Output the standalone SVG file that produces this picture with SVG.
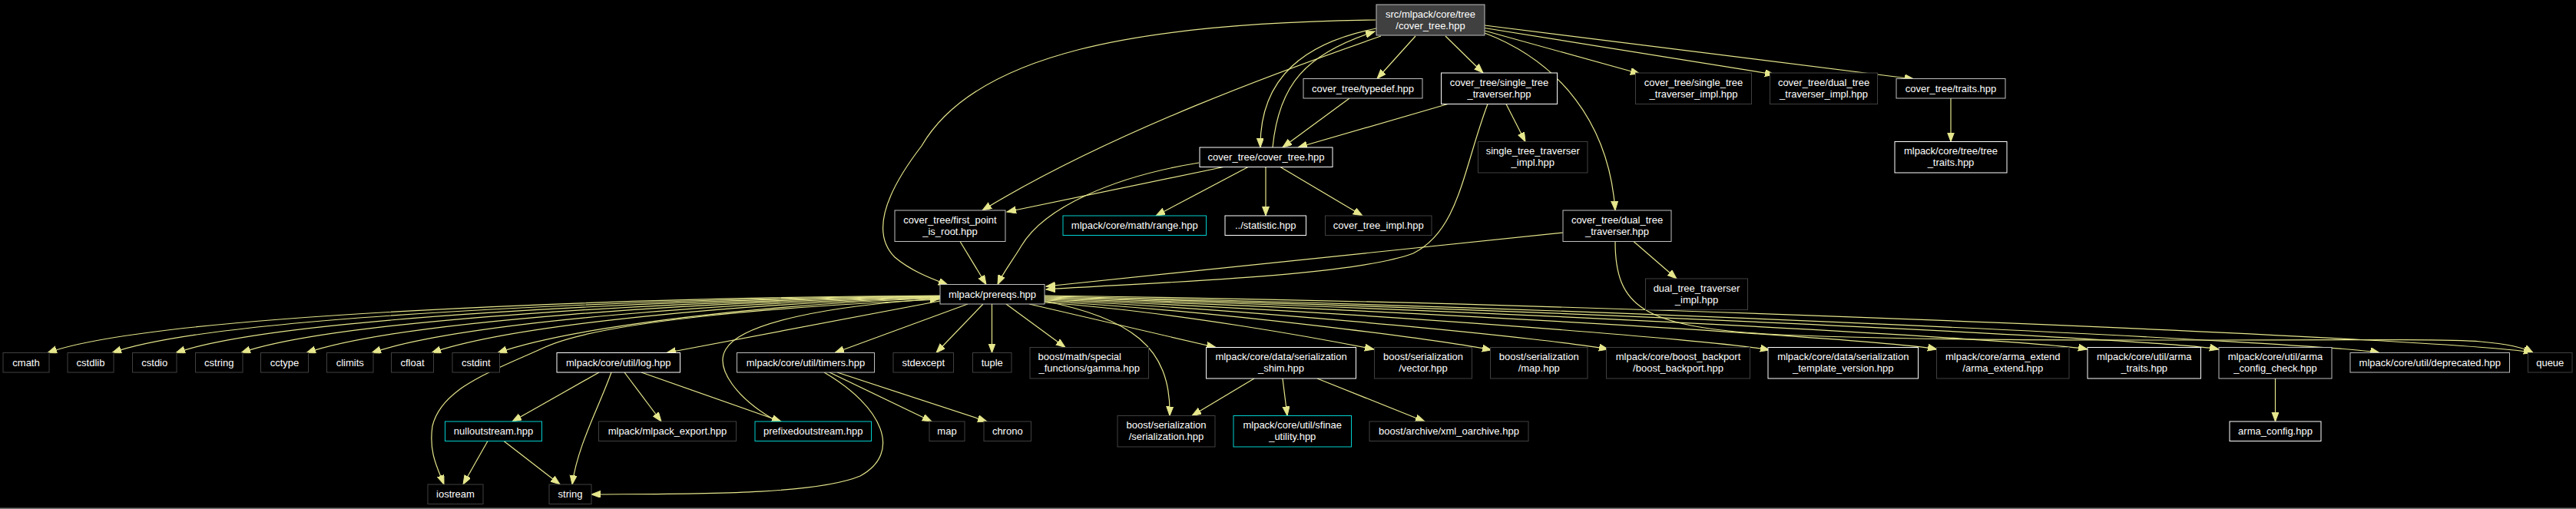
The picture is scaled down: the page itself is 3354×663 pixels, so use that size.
<svg xmlns="http://www.w3.org/2000/svg" width="3354" height="663" viewBox="0 0 3354 663">
<defs>
<style>
.bg{fill:#000000}
.n rect{fill:#000000;stroke-width:1}
.W rect{stroke:#ffffff}
.G rect{stroke:#bfbfbf}
.D rect{stroke:#404040}
.C rect{stroke:#00d0d0}
.n text{font-family:"Liberation Sans",Arial,sans-serif;font-size:13px;fill:#ffffff;text-anchor:middle}
.e path{fill:none;stroke:#e6e68c;stroke-width:1.2;marker-end:url(#ah)}
</style>
<marker id="ah" markerUnits="userSpaceOnUse" markerWidth="14" markerHeight="10" refX="12" refY="4.5" orient="auto">
<path d="M0,0 L12,4.5 L0,9 z" fill="#e6e68c" stroke="#e6e68c" stroke-width="1"/>
</marker>
</defs>
<rect class="bg" x="0" y="0" width="3354" height="663"/>
<rect x="0" y="661.5" width="3354" height="1.5" fill="#7a7a7a"/>

<g id="edges" class="e">
<!-- root -->
<path d="M1791,26 C1480,30 1270,70 1200,190 C1150,255 1135,305 1165,335 C1185,352 1210,362 1234,371"/>
<path d="M1798,47 C1680,88 1450,170 1279,274"/>
<path d="M1792,37 C1700,55 1640,100 1641,192"/>
<path d="M1657,192 C1665,110 1700,70 1790,41"/>
<path d="M1843,47 L1793,102.5"/>
<path d="M1882,47 L1931,95"/>
<path d="M1933,40 L2135,96"/>
<path d="M1933,36.5 L2310,97"/>
<path d="M1933,33 L2492,103"/>
<path d="M1933,43 C2030,80 2095,160 2103,274"/>
<path d="M2540,128 L2540,184.5"/>
<!-- cover_tree/cover_tree.hpp -->
<path d="M1593,217.5 L1311,276"/>
<path d="M1561,212 C1450,230 1360,270 1330,320 C1318,340 1306,355 1299,370.5"/>
<path d="M1625,217.5 L1505,281"/>
<path d="M1648,217.5 L1648,281"/>
<path d="M1667,217.5 L1774,281"/>
<!-- typedef / single traverser -->
<path d="M1757,128 L1670,192"/>
<path d="M1885,135.5 L1690,192"/>
<path d="M1961,135.5 L1986,184.5"/>
<path d="M1937,135.5 C1905,220 1900,300 1840,330 C1760,360 1500,368 1362,377"/>
<!-- first point -->
<path d="M1250,314.5 L1284,370.5"/>
<!-- dual traverser -->
<path d="M2035,303 L1362,373"/>
<path d="M2127,314.5 L2183,363"/>
<path d="M2103,314.5 C2103,400 2140,425 2300,435 C2600,450 3150,438 3230,445 C3265,448 3285,452 3298,459.5"/>
<!-- prereqs left fan -->
<path d="M1224,385 C800,388 200,410 62,459.5"/>
<path d="M1224,385.5 C830,389 280,412 146,459.5"/>
<path d="M1224,386 C860,390 360,414 229,459.5"/>
<path d="M1224,386.5 C890,391 440,416 314,459.5"/>
<path d="M1224,387 C920,392 520,418 399,459.5"/>
<path d="M1224,387.5 C950,393 600,420 484,459.5"/>
<path d="M1224,388 C980,394 670,422 562,459.5"/>
<path d="M1224,388.5 C1010,395 750,424 648,459.5"/>
<path d="M1224,390 C1000,400 780,420 710,452 C640,484 575,505 563,555 C558,590 570,610 578,631"/>
<path d="M1224,392 L868,459.5"/>
<path d="M1260,396 L1087,459.5"/>
<path d="M1280,396 L1219,459.5"/>
<path d="M1291.5,396 L1291.5,459.5"/>
<path d="M1310,396 L1387,452.5"/>
<!-- prereqs right side -->
<path d="M1340,396 L1583,452.5"/>
<path d="M1360,392 C1470,415 1525,450 1523,541.5"/>
<path d="M1360,394 C1532,406 1729,443 1789,455"/>
<path d="M1360,392.5 C1593,405 1882,444 1942,456"/>
<path d="M1360,391 C1654,404 2034,443 2094,455"/>
<path d="M1360,390 C1738,403 2244,444 2304,456"/>
<path d="M1360,389 C1825,402 2462,443 2522,455"/>
<path d="M1360,388 C1903,401 2658,443 2718,455"/>
<path d="M1360,387 C1972,400 2829,443 2889,455"/>
<path d="M1360,386 C2055,399 3038,447 3098,459.5"/>
<path d="M1360,385 C2135,395 3238,444 3298,459.5"/>
<!-- prefixedoutstream back to prereqs -->
<path d="M1012,549 C960,520 930,480 945,455 C965,420 1080,398 1223,389"/>
<!-- log.hpp -->
<path d="M780,485 L667,549"/>
<path d="M796,485 C780,530 752,580 745,631"/>
<path d="M813,485 L861,549"/>
<path d="M835,485 L1017,549"/>
<!-- nulloutstream -->
<path d="M635,574.5 L603,631"/>
<path d="M656,574.5 L729,631"/>
<!-- timers -->
<path d="M1080,485 L1213,549"/>
<path d="M1090,485 L1285,549"/>
<path d="M1073,485 C1150,530 1175,590 1120,620 C1060,645 900,643 770,644"/>
<!-- serialization shim -->
<path d="M1633,493 L1552,541.5"/>
<path d="M1670,493 L1676,541.5"/>
<path d="M1715,493 L1855,549"/>
<!-- arma config check -->
<path d="M2962.5,493 L2962.5,549"/>
</g>

<g id="n_root" class="n G"><rect x="1792" y="6" width="141" height="40" style="fill:#404040"/><text x="1862.5" y="22.5">src/mlpack/core/tree</text><text x="1862.5" y="37.5">/cover_tree.hpp</text></g>
<g id="n_ct" class="n W"><rect x="1562" y="192" width="173" height="25.5"/><text x="1648.5" y="209">cover_tree/cover_tree.hpp</text></g>
<g id="n_typedef" class="n G"><rect x="1697" y="102.5" width="155" height="25.5"/><text x="1774.5" y="119.5">cover_tree/typedef.hpp</text></g>
<g id="n_single_trav" class="n W"><rect x="1876.5" y="95" width="151" height="40.5"/><text x="1952" y="111.5">cover_tree/single_tree</text><text x="1952" y="126.5">_traverser.hpp</text></g>
<g id="n_single_trav_impl_ct" class="n D"><rect x="2129.5" y="95" width="151" height="40.5"/><text x="2205" y="111.5">cover_tree/single_tree</text><text x="2205" y="126.5">_traverser_impl.hpp</text></g>
<g id="n_dual_trav_impl_ct" class="n D"><rect x="2304.5" y="95" width="140" height="40.5"/><text x="2374.5" y="111.5">cover_tree/dual_tree</text><text x="2374.5" y="126.5">_traverser_impl.hpp</text></g>
<g id="n_traits" class="n G"><rect x="2469" y="102.5" width="142" height="25.5"/><text x="2540" y="119.5">cover_tree/traits.hpp</text></g>
<g id="n_st_impl" class="n D"><rect x="1924.5" y="184.5" width="142.5" height="40.5"/><text x="1995.75" y="201">single_tree_traverser</text><text x="1995.75" y="216">_impl.hpp</text></g>
<g id="n_tree_traits" class="n W"><rect x="2467" y="184.5" width="146" height="40.5"/><text x="2540" y="201">mlpack/core/tree/tree</text><text x="2540" y="216">_traits.hpp</text></g>
<g id="n_first_point" class="n G"><rect x="1165" y="274" width="144" height="40.5"/><text x="1237" y="290.5">cover_tree/first_point</text><text x="1237" y="305.5">_is_root.hpp</text></g>
<g id="n_range" class="n C"><rect x="1384" y="281" width="186.5" height="25.5"/><text x="1477.25" y="298">mlpack/core/math/range.hpp</text></g>
<g id="n_statistic" class="n W"><rect x="1595" y="281" width="105.5" height="25.5"/><text x="1647.75" y="298">../statistic.hpp</text></g>
<g id="n_ct_impl" class="n D"><rect x="1725.5" y="281" width="138.5" height="25.5"/><text x="1794.75" y="298">cover_tree_impl.hpp</text></g>
<g id="n_dual_trav" class="n G"><rect x="2035" y="274" width="141" height="40.5"/><text x="2105.5" y="290.5">cover_tree/dual_tree</text><text x="2105.5" y="305.5">_traverser.hpp</text></g>
<g id="n_dt_impl" class="n D"><rect x="2142.5" y="363" width="133" height="40.5"/><text x="2209" y="379.5">dual_tree_traverser</text><text x="2209" y="394.5">_impl.hpp</text></g>
<g id="n_prereqs" class="n G"><rect x="1224" y="370.5" width="136" height="25.5"/><text x="1292" y="387.5">mlpack/prereqs.hpp</text></g>

<g id="n_cmath" class="n D"><rect x="4" y="459.5" width="60" height="25.5"/><text x="34" y="476.5">cmath</text></g>
<g id="n_cstdlib" class="n D"><rect x="88" y="459.5" width="60" height="25.5"/><text x="118" y="476.5">cstdlib</text></g>
<g id="n_cstdio" class="n D"><rect x="172.5" y="459.5" width="57.5" height="25.5"/><text x="201.25" y="476.5">cstdio</text></g>
<g id="n_cstring" class="n D"><rect x="254.5" y="459.5" width="61.5" height="25.5"/><text x="285.25" y="476.5">cstring</text></g>
<g id="n_cctype" class="n D"><rect x="339.5" y="459.5" width="62" height="25.5"/><text x="370.5" y="476.5">cctype</text></g>
<g id="n_climits" class="n D"><rect x="425.5" y="459.5" width="60.5" height="25.5"/><text x="455.75" y="476.5">climits</text></g>
<g id="n_cfloat" class="n D"><rect x="509.5" y="459.5" width="55" height="25.5"/><text x="537" y="476.5">cfloat</text></g>
<g id="n_cstdint" class="n D"><rect x="589" y="459.5" width="61.5" height="25.5"/><text x="619.75" y="476.5">cstdint</text></g>
<g id="n_log" class="n W"><rect x="725" y="459.5" width="160.5" height="25.5"/><text x="805.25" y="476.5">mlpack/core/util/log.hpp</text></g>
<g id="n_timers" class="n G"><rect x="959.5" y="459.5" width="179" height="25.5"/><text x="1049" y="476.5">mlpack/core/util/timers.hpp</text></g>
<g id="n_stdexcept" class="n D"><rect x="1163" y="459.5" width="78.5" height="25.5"/><text x="1202.25" y="476.5">stdexcept</text></g>
<g id="n_tuple" class="n D"><rect x="1266.5" y="459.5" width="50.5" height="25.5"/><text x="1291.75" y="476.5">tuple</text></g>
<g id="n_gamma" class="n D"><rect x="1341" y="452.5" width="154.5" height="40.5"/><text x="1351.5" y="469" style="text-anchor:start">boost/math/special</text><text x="1418.25" y="484">_functions/gamma.hpp</text></g>
<g id="n_ser_shim" class="n W"><rect x="1570.5" y="452.5" width="195" height="40.5"/><text x="1668" y="469">mlpack/core/data/serialization</text><text x="1668" y="484">_shim.hpp</text></g>
<g id="n_vector" class="n D"><rect x="1789.5" y="452.5" width="127" height="40.5"/><text x="1853" y="469">boost/serialization</text><text x="1853" y="484">/vector.hpp</text></g>
<g id="n_map_hpp" class="n D"><rect x="1940.5" y="452.5" width="126.5" height="40.5"/><text x="2003.75" y="469">boost/serialization</text><text x="2003.75" y="484">/map.hpp</text></g>
<g id="n_boost_backport" class="n D"><rect x="2091.5" y="452.5" width="187" height="40.5"/><text x="2185" y="469">mlpack/core/boost_backport</text><text x="2185" y="484">/boost_backport.hpp</text></g>
<g id="n_ser_tmpl" class="n W"><rect x="2302" y="452.5" width="195.5" height="40.5"/><text x="2399.75" y="469">mlpack/core/data/serialization</text><text x="2399.75" y="484">_template_version.hpp</text></g>
<g id="n_arma_extend" class="n D"><rect x="2521.5" y="452.5" width="172.5" height="40.5"/><text x="2607.75" y="469">mlpack/core/arma_extend</text><text x="2607.75" y="484">/arma_extend.hpp</text></g>
<g id="n_arma_traits" class="n W"><rect x="2718" y="452.5" width="147.5" height="40.5"/><text x="2791.75" y="469">mlpack/core/util/arma</text><text x="2791.75" y="484">_traits.hpp</text></g>
<g id="n_arma_config_check" class="n G"><rect x="2889" y="452.5" width="147" height="40.5"/><text x="2962.5" y="469">mlpack/core/util/arma</text><text x="2962.5" y="484">_config_check.hpp</text></g>
<g id="n_deprecated" class="n G"><rect x="3060" y="459.5" width="207.5" height="25.5"/><text x="3163.75" y="476.5">mlpack/core/util/deprecated.hpp</text></g>
<g id="n_queue" class="n D"><rect x="3291.5" y="459.5" width="57.5" height="25.5"/><text x="3320.25" y="476.5">queue</text></g>

<g id="n_nulloutstream" class="n C"><rect x="579.5" y="549" width="126" height="25.5"/><text x="642.5" y="566">nulloutstream.hpp</text></g>
<g id="n_mlpack_export" class="n D"><rect x="779.5" y="549" width="179" height="25.5"/><text x="869" y="566">mlpack/mlpack_export.hpp</text></g>
<g id="n_prefixedoutstream" class="n C"><rect x="983" y="549" width="151.5" height="25.5"/><text x="1058.75" y="566">prefixedoutstream.hpp</text></g>
<g id="n_map" class="n D"><rect x="1210" y="549" width="46" height="25.5"/><text x="1233" y="566">map</text></g>
<g id="n_chrono" class="n D"><rect x="1281" y="549" width="61.5" height="25.5"/><text x="1311.75" y="566">chrono</text></g>
<g id="n_serialization" class="n D"><rect x="1455" y="541.5" width="127" height="40.5"/><text x="1518.5" y="558">boost/serialization</text><text x="1518.5" y="573">/serialization.hpp</text></g>
<g id="n_sfinae" class="n C"><rect x="1606" y="541.5" width="153.5" height="40.5"/><text x="1682.75" y="558">mlpack/core/util/sfinae</text><text x="1682.75" y="573">_utility.hpp</text></g>
<g id="n_xml_oarchive" class="n D"><rect x="1783" y="549" width="207" height="25.5"/><text x="1886.5" y="566">boost/archive/xml_oarchive.hpp</text></g>
<g id="n_arma_config" class="n W"><rect x="2903" y="549" width="119" height="25.5"/><text x="2962.5" y="566">arma_config.hpp</text></g>
<g id="n_iostream" class="n D"><rect x="557" y="631" width="72" height="25.5"/><text x="593" y="648">iostream</text></g>
<g id="n_string" class="n D"><rect x="715" y="631" width="55" height="25.5"/><text x="742.5" y="648">string</text></g>
</svg>
